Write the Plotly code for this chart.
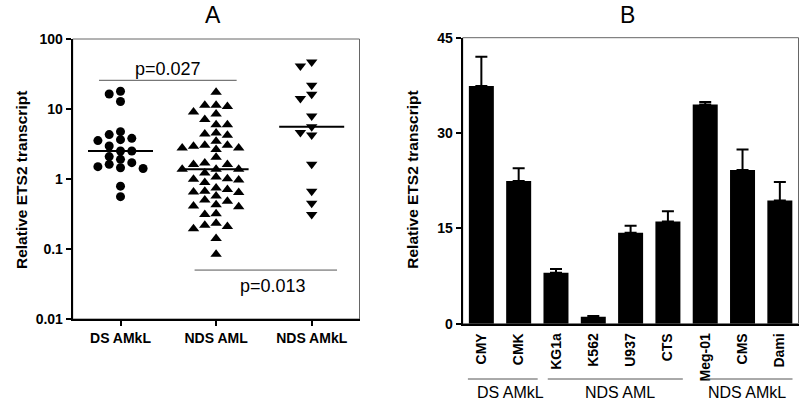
import numpy as np
import plotly.graph_objects as go

# ---------------- data: panel A (patient samples, log scale) ----------------
groups_A = ["DS AMkL", "NDS AML", "NDS AMkL"]
ds_amkl = [17.9, 16.4, 12.8, 4.75, 4.31, 3.81, 3.65, 3.54, 2.96, 2.51, 2.51,
           2.09, 1.91, 1.71, 1.62, 1.50, 1.45, 1.41, 0.79, 0.56]
nds_aml = [17.3, 11.3, 10.9, 11.3, 9.06, 8.49, 7.06, 5.98, 5.98,
           4.39, 4.21, 4.54, 2.93, 2.77, 3.03, 2.63, 3.03, 3.46, 2.77,
           2.04, 1.61, 1.69, 1.61, 1.38, 1.38, 1.22, 1.38,
           0.99, 0.89, 1.07, 0.97, 1.01, 0.667, 0.64, 0.743, 0.71, 0.57, 0.65,
           0.43, 0.40, 0.50, 0.41, 0.48, 0.31, 0.32,
           0.233, 0.195, 0.209, 0.218, 0.141, 0.084]
nds_amkl = [46.9, 41.1, 21.8, 16.2, 14.1, 7.94, 5.6, 4.6, 4.25, 1.62, 0.67, 0.45, 0.31]
y_ticks_A = [0.01, 0.1, 1, 10, 100]
y_tick_labels_A = ["0.01", "0.1", "1", "10", "100"]
p_labels = ["p=0.027", "p=0.013"]
p_levels = [25.7, 0.05]            # y value of each comparison bar
p_pairs = [(0, 1), (1, 2)]         # compared groups

# ---------------- data: panel B (cell lines) ----------------
cell_lines = ["CMY", "CMK", "KG1a", "K562", "U937", "CTS", "Meg-01", "CMS", "Dami"]
ets2_mean = [37.4, 22.45, 8.0, 1.1, 14.3, 16.1, 34.5, 24.2, 19.4]
ets2_sem = [4.6, 2.0, 0.6, 0.12, 1.1, 1.6, 0.4, 3.2, 2.9]
y_ticks_B = [0, 15, 30, 45]
cell_groups = ["DS AMkL", "NDS AML", "NDS AMkL"]
cell_group_span = [(0, 1), (2, 5), (6, 8)]

# ---------------- layout geometry ----------------
W, H = 800, 400
FONT = "Arial, Liberation Sans, sans-serif"
xdomA = [72.7 / W, 359.5 / W]
ydomA = [1 - 319 / H, 1 - 39 / H]
xdomB = [462.7 / W, 798.5 / W]
ydomB = [1 - 323.7 / H, 1 - 37.7 / H]

px_per_dec = (ydomA[1] - ydomA[0]) * H / 4.0
px_per_cat = (xdomA[1] - xdomA[0]) * W / 3.0


def swarm_offsets(values, min_dist=7.5, slot=11.3):
    y = np.log10(np.asarray(values, float)) * px_per_dec
    cands = [0, -1, 1, -2, 2, -0.5, 0.5, -1.5, 1.5, -2.5, 2.5, -3, 3, -3.5, 3.5]
    placed = []
    offs = np.zeros(len(y))
    for i in np.argsort(-y, kind="stable"):
        x = 0.0
        for c in cands:
            x = c * slot
            if all(np.hypot(x - px, y[i] - py) >= min_dist for px, py in placed):
                break
        placed.append((x, y[i]))
        offs[i] = x / px_per_cat
    return offs


fig = go.Figure()

symbols = ["circle", "triangle-up", "triangle-down"]
sizes = [9, 10, 10]
for gi, (vals, sym, sz) in enumerate(zip([ds_amkl, nds_aml, nds_amkl], symbols, sizes)):
    xs = gi + swarm_offsets(vals)
    fig.add_trace(go.Scatter(x=xs, y=vals, mode="markers", xaxis="x", yaxis="y",
                             marker=dict(symbol=sym, size=sz, color="black"),
                             showlegend=False, hoverinfo="y"))
    med = float(np.median(vals))
    fig.add_trace(go.Scatter(x=[gi - 0.34, gi + 0.34], y=[med, med], mode="lines",
                             xaxis="x", yaxis="y", line=dict(color="black", width=2),
                             showlegend=False, hoverinfo="skip"))

# comparison bars
for (a, b), lev, above in zip(p_pairs, p_levels, [True, False]):
    fig.add_trace(go.Scatter(x=[a - 0.225, b + 0.215 if above else b + 0.265], y=[lev, lev],
                             mode="lines", xaxis="x", yaxis="y",
                             line=dict(color="#555555", width=1),
                             showlegend=False, hoverinfo="skip"))

# bars
fig.add_trace(go.Bar(x=cell_lines, y=ets2_mean, xaxis="x2", yaxis="y2",
                     marker=dict(color="black", line=dict(width=0)), width=0.67,
                     error_y=dict(type="data", symmetric=False, array=ets2_sem,
                                  arrayminus=[0] * len(ets2_sem), color="black",
                                  thickness=2, width=6),
                     showlegend=False))

tickfont = dict(family=FONT, size=14, color="black", weight="bold")
axis_common = dict(showgrid=False, zeroline=False, showline=True, linecolor="black",
                   linewidth=2, ticks="outside", ticklen=5, tickwidth=2,
                   tickcolor="black", tickfont=tickfont, automargin=False)

fig.update_layout(
    width=W, height=H, margin=dict(l=0, r=0, t=0, b=0),
    paper_bgcolor="white", plot_bgcolor="white",
    font=dict(family=FONT, color="black"),
    xaxis=dict(domain=xdomA, range=[-0.5, 2.5], tickvals=[0, 1, 2], ticktext=groups_A,
               anchor="y", **axis_common),
    yaxis=dict(domain=ydomA, type="log", range=[-2, 2], tickvals=y_ticks_A,
               ticktext=y_tick_labels_A, anchor="x", **axis_common),
    xaxis2=dict(domain=xdomB, range=[-0.5, 8.5], type="category", anchor="y2",
                tickangle=-90, **{**axis_common, "tickcolor": "rgba(0,0,0,0)", "ticklen": 2}),
    yaxis2=dict(domain=ydomB, range=[0, 45], tickvals=y_ticks_B, anchor="x2", **axis_common),
)

# gray frames (top/right)
for xr, yr in [("x domain", "y domain"), ("x2 domain", "y2 domain")]:
    fig.add_shape(type="rect", xref=xr, yref=yr, x0=0, x1=1, y0=0, y1=1,
                  line=dict(color="#666666", width=1), layer="below")

# p-value labels
fig.add_annotation(x=0.5, y=np.log10(p_levels[0]), xref="x", yref="y", text=p_labels[0],
                   showarrow=False, yshift=11, font=dict(family=FONT, size=18, color="black"))
fig.add_annotation(x=1.6, y=np.log10(p_levels[1]), xref="x", yref="y", text=p_labels[1],
                   showarrow=False, yshift=-16, font=dict(family=FONT, size=18, color="black"))

# panel titles
for txt, xc in [("A", 213.3 / W), ("B", 627.7 / W)]:
    fig.add_annotation(x=xc, y=1 - 14.5 / H, xref="paper", yref="paper", text=txt,
                       xanchor="center", yanchor="middle", showarrow=False,
                       font=dict(family=FONT, size=23, color="black"))

# y titles
for xc in [22 / W, 412.7 / W]:
    fig.add_annotation(x=xc, y=1 - 180 / H, xref="paper", yref="paper",
                       xanchor="center", yanchor="middle",
                       text="Relative ETS2 transcript", textangle=-90, showarrow=False,
                       font=dict(family=FONT, size=15.5, color="black", weight="bold"))

# group brackets under panel B
pads = [(-0.36, 0.51), (-0.22, 0.40), (0.04, 0.34)]
label_shift = [0.2, 0.12, -0.06]
for name, (a, b), (pa, pb), sh in zip(cell_groups, cell_group_span, pads, label_shift):
    fig.add_shape(type="line", xref="x2", yref="paper", x0=a + pa, x1=b + pb,
                  y0=1 - 379 / H, y1=1 - 379 / H, line=dict(color="#555555", width=1))
    fig.add_annotation(x=(a + pa + b + pb) / 2 + sh, y=1 - 392 / H, xref="x2", yref="paper",
                       text=name, showarrow=False, xanchor="center", yanchor="middle",
                       font=dict(family=FONT, size=16, color="black"))

fig.write_html("out.html", config={"displayModeBar": False},
               post_script="document.body.style.margin='0';document.body.style.overflow='hidden';")
